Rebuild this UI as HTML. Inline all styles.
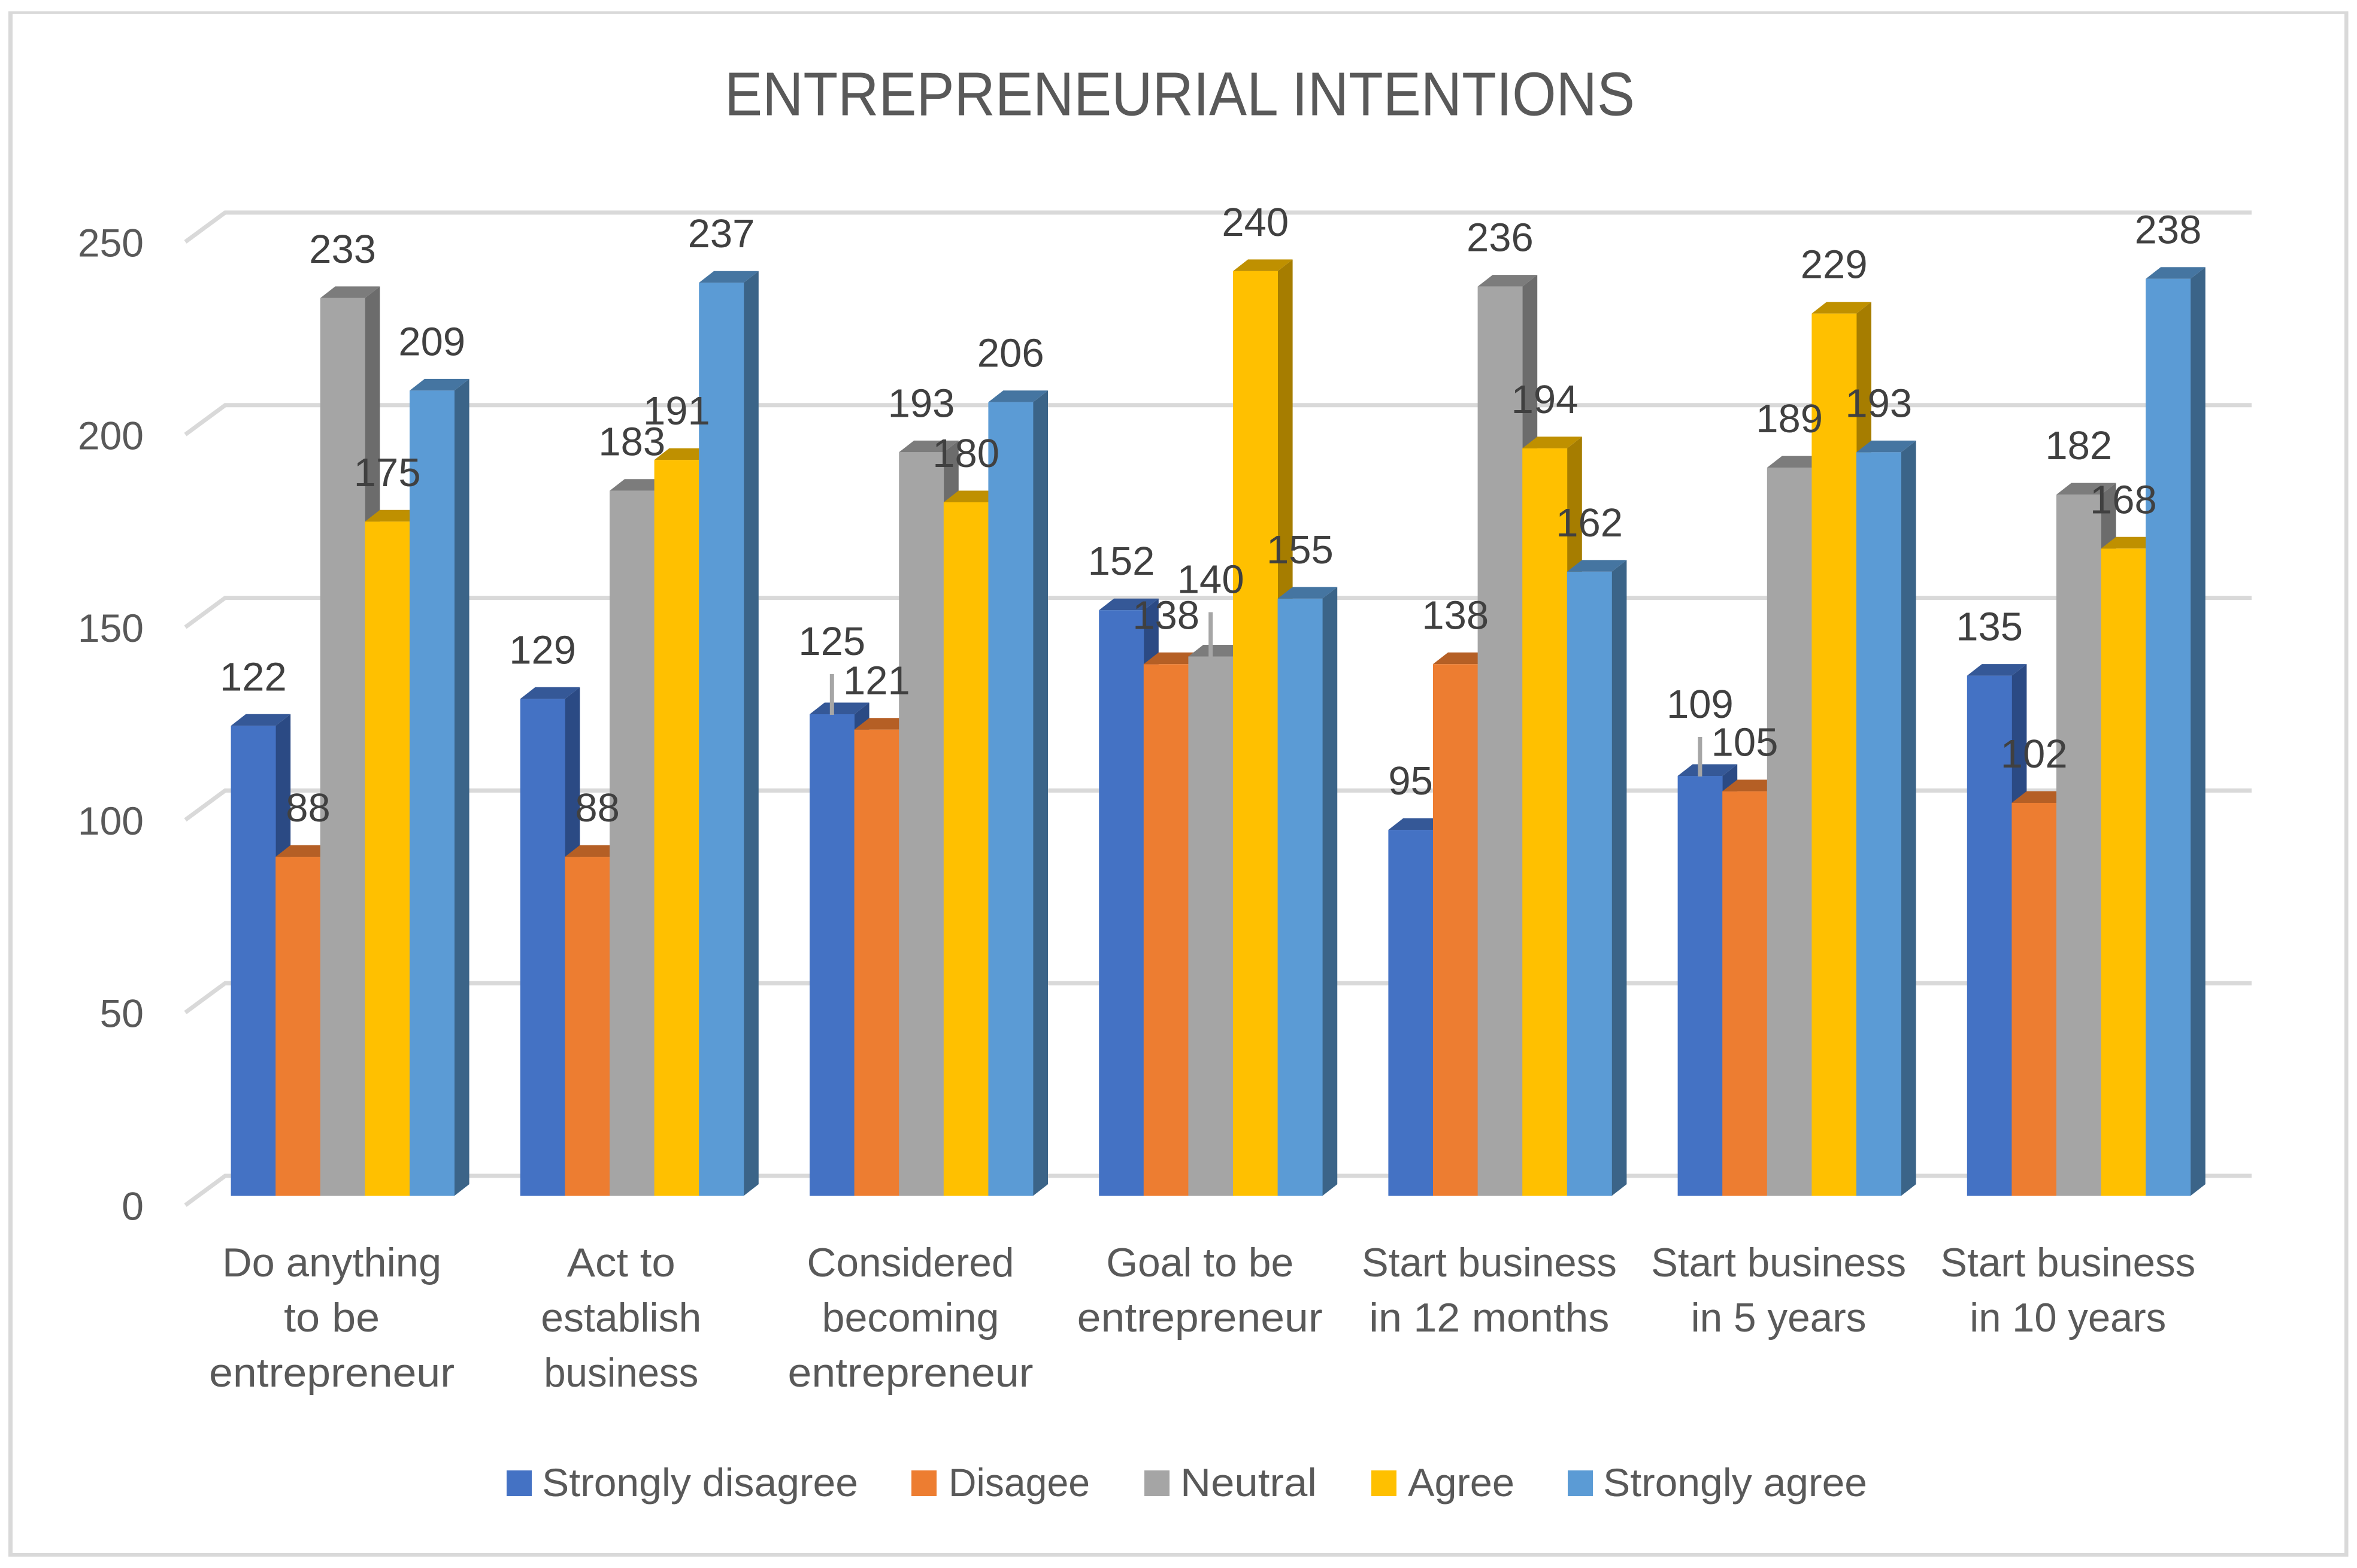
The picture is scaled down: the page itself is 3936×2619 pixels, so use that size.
<!DOCTYPE html>
<html lang="en">
<head>
<meta charset="utf-8">
<title>Entrepreneurial Intentions</title>
<style>
html,body{margin:0;padding:0;background:#fff;}
svg{display:block;}
text{font-family:"Liberation Sans",sans-serif;}
</style>
</head>
<body>
<svg id="chart" xmlns="http://www.w3.org/2000/svg" width="3936" height="2619" viewBox="0 0 3936 2619">
  <rect x="0" y="0" width="3936" height="2619" fill="#ffffff"/>
  <g fill="#D9D9D9">
    <rect x="14" y="19" width="3907.5" height="4"/>
    <rect x="14" y="2594" width="3907.5" height="6"/>
    <rect x="14" y="19" width="7" height="2581"/>
    <rect x="3915" y="19" width="6.5" height="2581"/>
  </g>
  <text x="1210" y="192.5" font-size="103" fill="#595959" textLength="1520" lengthAdjust="spacingAndGlyphs">ENTREPRENEURIAL INTENTIONS</text>
  <g id="grid"></g>
  <g id="yaxis"></g>
  <g id="bars"></g>
  <g id="labels"></g>
  <g id="xaxis"></g>
  <g font-size="66" fill="#595959">
    <g>
      <rect x="846" y="2456" width="42" height="43" fill="#4472C4"/>
      <text x="905" y="2499" textLength="528" lengthAdjust="spacingAndGlyphs">Strongly disagree</text>
    </g>
    <g>
      <rect x="1522" y="2456" width="42" height="43" fill="#ED7D31"/>
      <text x="1584" y="2499" textLength="236" lengthAdjust="spacingAndGlyphs">Disagee</text>
    </g>
    <g>
      <rect x="1911" y="2456" width="42" height="43" fill="#A5A5A5"/>
      <text x="1971" y="2499" textLength="228" lengthAdjust="spacingAndGlyphs">Neutral</text>
    </g>
    <g>
      <rect x="2290" y="2456" width="42" height="43" fill="#FFC000"/>
      <text x="2351" y="2499" textLength="178" lengthAdjust="spacingAndGlyphs">Agree</text>
    </g>
    <g>
      <rect x="2618" y="2456" width="42" height="43" fill="#5B9BD5"/>
      <text x="2677" y="2499" textLength="441" lengthAdjust="spacingAndGlyphs">Strongly agree</text>
    </g>
  </g>
</svg>
<script>
const categories = [
  ["Do anything", "to be", "entrepreneur"],
  ["Act to", "establish", "business"],
  ["Considered", "becoming", "entrepreneur"],
  ["Goal to be", "entrepreneur"],
  ["Start business", "in 12 months"],
  ["Start business", "in 5 years"],
  ["Start business", "in 10 years"]
];
const stronglyDisagree = [122, 129, 125, 152, 95, 109, 135];
const disagree = [88, 88, 121, 138, 138, 105, 102];
const neutral = [233, 183, 193, 140, 236, 189, 182];
const agree = [175, 191, 180, 240, 194, 229, 168];
const stronglyAgree = [209, 237, 206, 155, 162, 193, 238];
const yTicks = [0, 50, 100, 150, 200, 250];

const SVGNS = 'http://www.w3.org/2000/svg';
const seriesValues = [stronglyDisagree, disagree, neutral, agree, stronglyAgree];
const seriesKeys = ['strongly-disagree', 'disagree', 'neutral', 'agree', 'strongly-agree'];
const palette = [
  {front: '#4472C4', top: '#355897', side: '#2B4A84'},
  {front: '#ED7D31', top: '#B55F25', side: '#A85722'},
  {front: '#A5A5A5', top: '#7C7C7C', side: '#6C6C6C'},
  {front: '#FFC000', top: '#BF9000', side: '#A67D00'},
  {front: '#5B9BD5', top: '#4575A1', side: '#3B6488'}
];

const unitPx = 6.436;
const frontZeroY = 1997.5;
const backZeroY = 1964;
const tickZeroBaseline = 2037.5;
const groupLeft = 385.6;
const groupStep = 483.2;
const barWidth = 74.6;
const depthX = 25;
const depthY = 19.5;

// Rendered width of each axis-label line, matching the narrower original typeface
const lineWidths = {
  'Do anything': 366, 'to be': 160, 'entrepreneur': 410,
  'Act to': 181, 'establish': 268, 'business': 258,
  'Considered': 346, 'becoming': 296, 'Goal to be': 313,
  'Start business': 426, 'in 12 months': 401, 'in 5 years': 293, 'in 10 years': 328
};

function yFront(v) { return frontZeroY - v * unitPx; }
function yBack(v) { return backZeroY - v * unitPx; }
function xBar(c, s) { return groupLeft + c * groupStep + s * barWidth; }
function pts(list) { return list.map(function (p) { return p[0].toFixed(1) + ',' + p[1].toFixed(1); }).join(' '); }
function make(tag, attrs, parent) {
  const el = document.createElementNS(SVGNS, tag);
  Object.keys(attrs).forEach(function (k) { el.setAttribute(k, attrs[k]); });
  parent.appendChild(el);
  return el;
}

const gridG = document.getElementById('grid');
const yaxisG = document.getElementById('yaxis');
const barsG = document.getElementById('bars');
const labelsG = document.getElementById('labels');
const xaxisG = document.getElementById('xaxis');

yTicks.forEach(function (t) {
  const yb = yBack(t);
  const line = make('polyline', {points: pts([[309.5, yb + 49], [376, yb], [3760, yb]]), fill: 'none', stroke: '#D9D9D9', 'stroke-width': 7}, gridG);
  
  
  const lab = make('text', {x: 240, y: (tickZeroBaseline - t * unitPx).toFixed(1), 'text-anchor': 'end', 'font-size': 66, fill: '#595959'}, yaxisG);
  lab.textContent = String(t);
  
  
});

seriesValues.forEach(function (values, s) {
  values.forEach(function (v, c) {
    const x = xBar(c, s);
    const yt = yFront(v);
    const col = palette[s];
    const g = make('g', {}, barsG);
    
    
    const side = make('polygon', {points: pts([[x + barWidth, yt], [x + barWidth + depthX, yt - depthY], [x + barWidth + depthX, frontZeroY - depthY], [x + barWidth, frontZeroY]]), fill: col.side}, g);
    
    
    const top = make('polygon', {points: pts([[x, yt], [x + depthX, yt - depthY], [x + barWidth + depthX, yt - depthY], [x + barWidth, yt]]), fill: col.top}, g);
    
    
    const front = make('rect', {x: x.toFixed(1), y: yt.toFixed(1), width: barWidth + 0.4, height: (frontZeroY - yt).toFixed(1), fill: col.front}, g);
    
    
  });
});

// Label placement adjustments seen in the chart: [series, category, dx, lift]
const labelAdjust = [[1, 0, 17, 0], [1, 1, 17, 0], [0, 2, 0, 40], [2, 3, 0, 47], [0, 5, 0, 38]];
seriesValues.forEach(function (values, s) {
  values.forEach(function (v, c) {
    const adj = labelAdjust.find(function (a) { return a[0] === s && a[1] === c; }) || [s, c, 0, 0];
    const cx = xBar(c, s) + barWidth / 2;
    const baseline = yFront(v) - 59 - adj[3];
    if (adj[3] > 0) {
      const leader = make('line', {x1: cx.toFixed(1), x2: cx.toFixed(1), y1: (baseline + 32).toFixed(1), y2: (yFront(v) + 1).toFixed(1), stroke: '#A6A6A6', 'stroke-width': 7}, labelsG);
      
      
    }
    const t = make('text', {x: (cx + adj[2]).toFixed(1), y: baseline.toFixed(1), 'text-anchor': 'middle', 'font-size': 67, fill: '#404040'}, labelsG);
    t.textContent = String(v);
    
    
  });
});

categories.forEach(function (lines, c) {
  const cx = xBar(c, 2.5) - 18;
  lines.forEach(function (ln, i) {
    const t = make('text', {x: cx.toFixed(1), y: 2132 + i * 92, 'text-anchor': 'middle', 'font-size': 68, textLength: lineWidths[ln], lengthAdjust: 'spacingAndGlyphs', fill: '#595959'}, xaxisG);
    t.textContent = ln;
    
    
  });
});
</script>
</body>
</html>
